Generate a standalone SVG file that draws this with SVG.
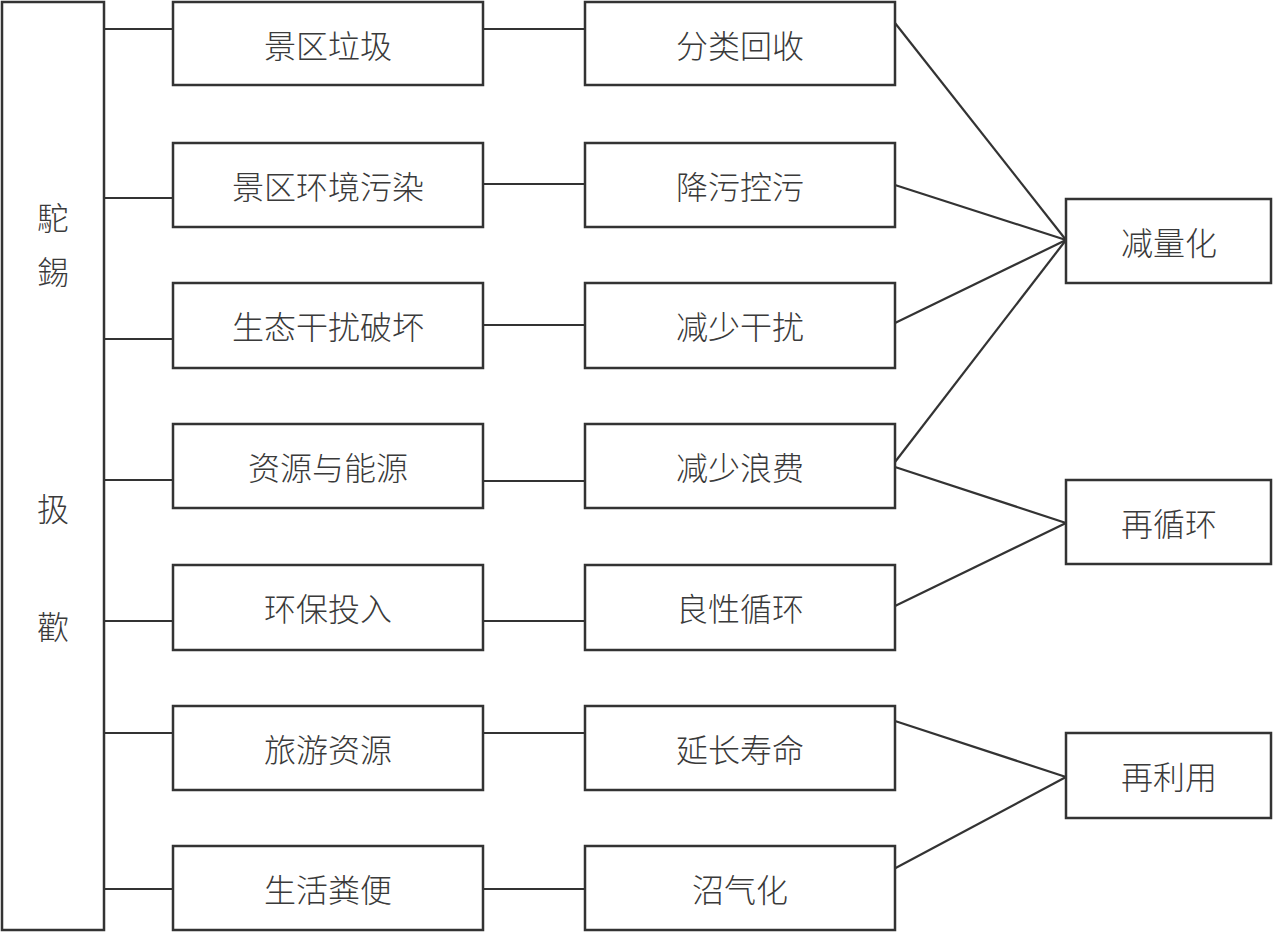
<svg xmlns="http://www.w3.org/2000/svg" width="1273" height="933" viewBox="0 0 1273 933">
<style>
.box{fill:#fff;stroke:#333;stroke-width:2.5}
.ln{stroke:#333;stroke-width:2.2;fill:none}
.t{font-family:"Noto Sans CJK SC","Noto Sans CJK TC",sans-serif;font-size:32px;font-weight:300;fill:#3a3a3a;text-anchor:middle;dominant-baseline:central}
</style>
<rect width="1273" height="933" fill="#fff"/>
<g id="connectors">
<line class="ln" x1="104" y1="29" x2="173" y2="29"/>
<line class="ln" x1="104" y1="198" x2="173" y2="198"/>
<line class="ln" x1="104" y1="339" x2="173" y2="339"/>
<line class="ln" x1="104" y1="480" x2="173" y2="480"/>
<line class="ln" x1="104" y1="621" x2="173" y2="621"/>
<line class="ln" x1="104" y1="733" x2="173" y2="733"/>
<line class="ln" x1="104" y1="889" x2="173" y2="889"/>
<line class="ln" x1="483" y1="29" x2="585" y2="29"/>
<line class="ln" x1="483" y1="184" x2="585" y2="184"/>
<line class="ln" x1="483" y1="325" x2="585" y2="325"/>
<line class="ln" x1="483" y1="481" x2="585" y2="481"/>
<line class="ln" x1="483" y1="621" x2="585" y2="621"/>
<line class="ln" x1="483" y1="733" x2="585" y2="733"/>
<line class="ln" x1="483" y1="889" x2="585" y2="889"/>
<line class="ln" x1="895" y1="23" x2="1066" y2="240"/>
<line class="ln" x1="895" y1="185" x2="1066" y2="240"/>
<line class="ln" x1="895" y1="323" x2="1066" y2="240"/>
<line class="ln" x1="895" y1="462" x2="1066" y2="240"/>
<line class="ln" x1="895" y1="467" x2="1066" y2="523"/>
<line class="ln" x1="895" y1="606" x2="1066" y2="523"/>
<line class="ln" x1="895" y1="721" x2="1066" y2="777"/>
<line class="ln" x1="890" y1="871" x2="1066" y2="777"/>
</g>
<g id="main">
<rect class="box" x="2" y="2" width="102" height="928"/>
<text class="t" x="53" y="216">駝</text>
<text class="t" x="53" y="270">錫</text>
<text class="t" x="53" y="507">扱</text>
<text class="t" x="53" y="625">歡</text>
</g>
<g id="a1"><rect class="box" x="173" y="2" width="310" height="83"/><text class="t" x="328" y="44">景区垃圾</text></g>
<g id="a2"><rect class="box" x="173" y="143" width="310" height="84"/><text class="t" x="328" y="185">景区环境污染</text></g>
<g id="a3"><rect class="box" x="173" y="283" width="310" height="85"/><text class="t" x="328" y="325">生态干扰破坏</text></g>
<g id="a4"><rect class="box" x="173" y="424" width="310" height="84"/><text class="t" x="328" y="466">资源与能源</text></g>
<g id="a5"><rect class="box" x="173" y="565" width="310" height="85"/><text class="t" x="328" y="607">环保投入</text></g>
<g id="a6"><rect class="box" x="173" y="706" width="310" height="84"/><text class="t" x="328" y="748">旅游资源</text></g>
<g id="a7"><rect class="box" x="173" y="846" width="310" height="84"/><text class="t" x="328" y="888">生活粪便</text></g>
<g id="b1"><rect class="box" x="585" y="2" width="310" height="83"/><text class="t" x="740" y="44">分类回收</text></g>
<g id="b2"><rect class="box" x="585" y="143" width="310" height="84"/><text class="t" x="740" y="185">降污控污</text></g>
<g id="b3"><rect class="box" x="585" y="283" width="310" height="85"/><text class="t" x="740" y="325">减少干扰</text></g>
<g id="b4"><rect class="box" x="585" y="424" width="310" height="84"/><text class="t" x="740" y="466">减少浪费</text></g>
<g id="b5"><rect class="box" x="585" y="565" width="310" height="85"/><text class="t" x="740" y="607">良性循环</text></g>
<g id="b6"><rect class="box" x="585" y="706" width="310" height="84"/><text class="t" x="740" y="748">延长寿命</text></g>
<g id="b7"><rect class="box" x="585" y="846" width="310" height="84"/><text class="t" x="740" y="888">沼气化</text></g>
<g id="c1"><rect class="box" x="1066" y="199" width="205" height="84"/><text class="t" x="1169" y="241">减量化</text></g>
<g id="c2"><rect class="box" x="1066" y="480" width="205" height="84"/><text class="t" x="1169" y="522">再循环</text></g>
<g id="c3"><rect class="box" x="1066" y="733" width="205" height="85"/><text class="t" x="1169" y="775">再利用</text></g>
</svg>
